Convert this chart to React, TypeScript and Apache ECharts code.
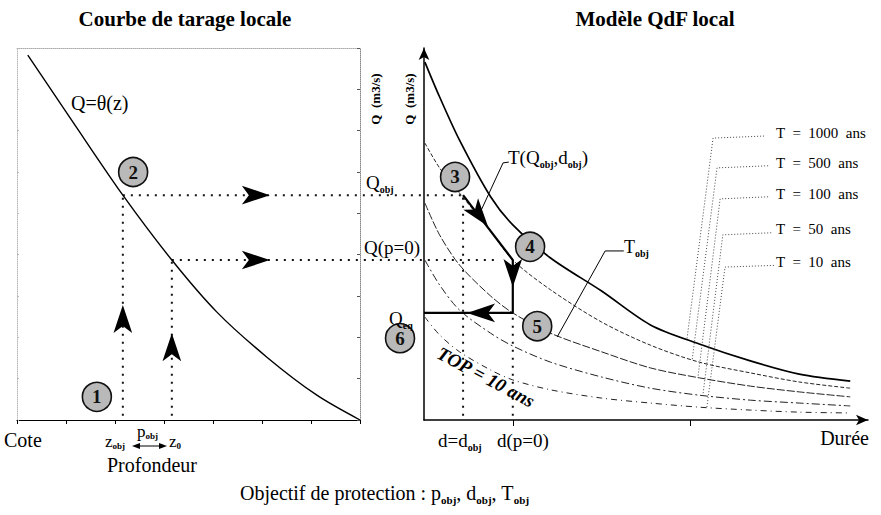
import React, { useEffect, useRef } from "react";
import * as echarts from "echarts";

const FONT = "Liberation Serif, Times New Roman, serif";

// ---------- Left panel: local rating curve Q = θ(z) ----------
const ratingZ = [0.22, 1.18, 2.16, 3.16, 4.08, 5.1, 6.12, 7.0];
const ratingQ = [8.83, 7.14, 5.44, 3.87, 2.61, 1.52, 0.6, 0.0];

// key values
const zObj = 2.16;
const z0 = 3.16;
const qObj = 5.44;
const qP0 = 3.87;
const qEq = 2.59;
const dObj = 0.88;
const dP0 = 2.0;
const durationTicks = [2, 6];

// ---------- Right panel: local QdF model ----------
const durations = [0.02, 0.35, 0.8, 1.5, 2.0, 2.85, 4.0, 5.1, 6.2, 7.35, 8.45, 9.6];
const q1000 = [8.66, 7.82, 6.77, 5.4, 4.72, 3.92, 3.12, 2.3, 1.84, 1.43, 1.11, 0.94];
const q500 = [6.7, 6.1, 5.49, 4.57, 3.87, 3.15, 2.37, 1.81, 1.4, 1.14, 0.92, 0.77];
const q100 = [5.25, 4.48, 3.75, 3.0, 2.59, 2.1, 1.65, 1.26, 1.02, 0.82, 0.68, 0.56];
const q50 = [3.87, 3.27, 2.66, 2.1, 1.79, 1.4, 1.04, 0.77, 0.6, 0.48, 0.41, 0.34];
const q10 = [2.49, 2.06, 1.65, 1.21, 0.97, 0.73, 0.53, 0.41, 0.31, 0.24, 0.19, 0.17];
const returnLabels = ["T  =  1000  ans", "T  =  500  ans", "T  =  100  ans", "T  =  50  ans", "T  =  10  ans"];

// leader lines from return-period labels to curves (duration, Q)
const leaderT1000 = [[7.66, 6.87], [6.51, 6.82], [5.92, 1.94]];
const leaderT500 = [[7.75, 6.15], [6.6, 6.1], [6.04, 1.46]];
const leaderT100 = [[7.75, 5.4], [6.67, 5.35], [6.17, 1.03]];
const leaderT50 = [[7.82, 4.53], [6.73, 4.48], [6.28, 0.59]];
const leaderT10 = [[7.88, 3.74], [6.78, 3.7], [6.37, 0.3]];
const leaderTQd = [[1.91, 6.24], [1.78, 6.22], [1.26, 5.01]];
const leaderTobj = [[4.5, 4.09], [4.08, 4.09], [3.0, 2.01]];

// numbered step markers
const stepsLeft = [
  { name: "1", value: [1.63, 0.56] },
  { name: "2", value: [2.37, 6.0] },
];
const stepsRight = [
  { name: "3", value: [0.7, 5.88] },
  { name: "4", value: [2.39, 4.19] },
  { name: "5", value: [2.55, 2.27] },
  { name: "6", value: [-0.54, 1.98] },
];

// arrow heads (value + direction)
const arrowsLeft = [
  { value: [5.16, qObj], symbolRotate: -90 },
  { value: [5.16, qP0], symbolRotate: -90 },
  { value: [zObj, 2.78], symbolRotate: 0 },
  { value: [z0, 2.1], symbolRotate: 0 },
];
const arrowsRight = [
  { value: [1.44, 4.69], symbolRotate: -142 },
  { value: [dP0, 3.22], symbolRotate: 180 },
  { value: [0.97, qEq], symbolRotate: 90 },
];

const dottedStyle = { color: "#111", width: 2, type: [2, 6] as any };
const leaderStyle = { color: "#444", width: 1, type: [1, 2] as any };

function seg(data: number[][], grid: number, lineStyle: any, extra: any = {}) {
  return {
    type: "line",
    xAxisIndex: grid,
    yAxisIndex: grid,
    data,
    symbol: "none",
    lineStyle,
    silent: true,
    z: 3,
    ...extra,
  };
}

const circleSeries = (data: any[], grid: number) => ({
  type: "scatter",
  xAxisIndex: grid,
  yAxisIndex: grid,
  data,
  clip: false,
  symbol: "circle",
  symbolSize: 29,
  z: 8,
  itemStyle: { color: "#b9b9b9", borderColor: "#111", borderWidth: 1.6, opacity: 1 },
  label: {
    show: true,
    position: "inside",
    formatter: (p: any) => p.name,
    fontFamily: FONT,
    fontWeight: "bold",
    fontSize: 19,
    color: "#111",
  },
  silent: true,
});

const arrowSeries = (data: any[], grid: number) => ({
  type: "scatter",
  xAxisIndex: grid,
  yAxisIndex: grid,
  data,
  clip: false,
  symbol: "arrow",
  symbolSize: [14, 28],
  itemStyle: { color: "#000", opacity: 1 },
  z: 9,
  silent: true,
});

const zip = (xs: number[], ys: number[]) => xs.map((x, i) => [x, ys[i]]);

const hiddenLbl = { show: false };
const noSplit = { show: false };

const option: any = {
  animation: false,
  backgroundColor: "#fff",
  grid: [
    { left: 17, top: 48, width: 343, height: 372 },
    { left: 424, top: 48, width: 444, height: 372 },
  ],
  xAxis: [
    {
      gridIndex: 0, type: "value", min: 0, max: 7, interval: 1,
      axisLine: { show: true, onZero: false, lineStyle: { color: "#000", width: 1.2 } },
      axisTick: { show: true, length: 4, lineStyle: { color: "#000" } },
      axisLabel: hiddenLbl, splitLine: noSplit,
    },
    {
      gridIndex: 1, type: "value", min: 0, max: 10,
      axisLine: { show: true, onZero: false, symbol: ["none", "arrow"], symbolSize: [8, 12], lineStyle: { color: "#000", width: 1.5 } },
      axisTick: { show: true, customValues: durationTicks, length: 6, lineStyle: { color: "#000" } },
      axisLabel: hiddenLbl, splitLine: noSplit,
    },
    {
      gridIndex: 0, type: "value", min: 0, max: 7, position: "top",
      axisLine: { show: true, onZero: false, lineStyle: { color: "#aaa", type: "dotted", width: 1 } },
      axisTick: { show: false }, axisLabel: hiddenLbl, splitLine: noSplit,
    },
  ],
  yAxis: [
    {
      gridIndex: 0, type: "value", min: 0, max: 9, interval: 1, position: "right",
      axisLine: { show: true, onZero: false, lineStyle: { color: "#888", type: "dotted", width: 1 } },
      axisTick: { show: true, inside: true, length: 3, lineStyle: { color: "#555" } },
      axisLabel: hiddenLbl, splitLine: noSplit,
    },
    {
      gridIndex: 1, type: "value", min: 0, max: 9,
      axisLine: { show: true, onZero: false, symbol: ["none", "arrow"], symbolSize: [8, 12], lineStyle: { color: "#000", width: 1.5 } },
      axisTick: { show: false }, axisLabel: hiddenLbl, splitLine: noSplit,
    },
    {
      gridIndex: 0, type: "value", min: 0, max: 9, interval: 1, position: "left",
      axisLine: { show: true, onZero: false, lineStyle: { color: "#bbb", type: "dotted", width: 1 } },
      axisTick: { show: true, inside: true, length: 2, lineStyle: { color: "#bbb" } },
      axisLabel: hiddenLbl, splitLine: noSplit,
    },
  ],
  series: [
    // left panel
    seg(zip(ratingZ, ratingQ), 0, { color: "#000", width: 1.4 }, { smooth: 0.3 }),
    seg([[zObj, 0.1], [zObj, qObj]], 0, dottedStyle),
    seg([[z0, 0.1], [z0, qP0]], 0, dottedStyle),
    circleSeries(stepsLeft, 0),
    arrowSeries(arrowsLeft, 0),
    // right panel curves
    seg(zip(durations, q1000), 1, { color: "#000", width: 1.7 }, { smooth: 0.3 }),
    seg(zip(durations, q500), 1, { color: "#222", width: 1, type: [4, 2] }, { smooth: 0.3 }),
    seg(zip(durations, q100), 1, { color: "#222", width: 1, type: [8, 2] }, { smooth: 0.3 }),
    seg(zip(durations, q50), 1, { color: "#222", width: 1, type: [8, 3, 2, 3] }, { smooth: 0.3 }),
    seg(zip(durations, q10), 1, { color: "#222", width: 1, type: [6, 4, 1, 4] }, { smooth: 0.3 }),
    // procedure path
    seg([[dObj, qObj], [dP0, qP0], [dP0, qEq], [0, qEq]], 1, { color: "#000", width: 2.2 }, { z: 6 }),
    seg([[dObj, 0.1], [dObj, qObj]], 1, dottedStyle),
    seg([[dP0, 0.1], [dP0, qEq]], 1, dottedStyle),
    // leaders
    seg(leaderT1000, 1, leaderStyle),
    seg(leaderT500, 1, leaderStyle),
    seg(leaderT100, 1, leaderStyle),
    seg(leaderT50, 1, leaderStyle),
    seg(leaderT10, 1, leaderStyle),
    seg(leaderTQd, 1, { color: "#000", width: 1 }),
    seg(leaderTobj, 1, { color: "#000", width: 1 }),
    circleSeries(stepsRight, 1),
    arrowSeries(arrowsRight, 1),
  ],
};

const sub = (size: number, gap: number) => ({
  n: { fontSize: size, fontFamily: FONT, lineHeight: size + gap },
  s: { fontSize: Math.round(size * 0.55), fontFamily: FONT, fontWeight: "bold", verticalAlign: "bottom" },
});

function txt(x: number, y: number, text: string, o: any = {}) {
  const size = o.size || 20;
  return {
    type: "text",
    x,
    y,
    rotation: o.rotation || 0,
    z: 100,
    silent: true,
    style: {
      text,
      fontFamily: FONT,
      fontSize: size,
      fontWeight: o.bold ? "bold" : "normal",
      fontStyle: o.italic ? "italic" : "normal",
      fill: "#000",
      align: o.align || "left",
      verticalAlign: "middle",
      rich: o.rich ? sub(size, o.gap ?? 5) : undefined,
    },
  };
}

const labelYs = [133, 163, 194, 229, 262];

const staticTexts: any[] = [
  txt(185, 19, "Courbe de tarage locale", { bold: true, align: "center", size: 21 }),
  txt(655, 19, "Modèle QdF local", { bold: true, align: "center", size: 21 }),
  txt(71, 103, "Q=θ(z)"),
  txt(4, 440, "Cote"),
  txt(105, 441, "{n|z}{s|obj}", { rich: true, size: 17, gap: 2 }),
  txt(137, 431, "{n|p}{s|obj}", { rich: true, size: 17, gap: 2 }),
  txt(169, 441, "{n|z}{s|0}", { rich: true, size: 17, gap: 2 }),
  txt(107, 465, "Profondeur"),
  txt(438, 440, "{n|d=d}{s|obj}", { rich: true, size: 19 }),
  txt(497, 440, "d(p=0)", { size: 19 }),
  txt(869, 438, "Durée", { align: "right" }),
  txt(240, 493, "{n|Objectif de protection : p}{s|obj}{n|, d}{s|obj}{n|, T}{s|obj}", { rich: true, size: 20 }),
  txt(366, 182, "{n|Q}{s|obj}", { rich: true, size: 19 }),
  txt(364, 247, "Q(p=0)", { size: 19 }),
  txt(389, 318, "{n|Q}{s|eq}", { rich: true, size: 19 }),
  txt(375, 99, "Q  (m3/s)", { size: 13, bold: true, rotation: Math.PI / 2, align: "center" }),
  txt(409, 99, "Q  (m3/s)", { size: 13, bold: true, rotation: Math.PI / 2, align: "center" }),
  txt(508, 157, "{n|T(Q}{s|obj}{n|,d}{s|obj}{n|)}", { rich: true, size: 19 }),
  txt(624, 247, "{n|T}{s|obj}", { rich: true, size: 18 }),
  txt(486, 377, "TOP = 10 ans", { bold: true, italic: true, size: 19, rotation: (-28 * Math.PI) / 180, align: "center" }),
  ...returnLabels.map((t, i) => txt(776, labelYs[i], t, { size: 15 })),
  // double arrow p_obj
  { type: "line", z: 100, silent: true, shape: { x1: 137, y1: 446, x2: 162, y2: 446 }, style: { stroke: "#000", lineWidth: 1 } },
  { type: "polygon", z: 100, silent: true, shape: { points: [[132, 446], [140, 443], [140, 449]] }, style: { fill: "#000" } },
  { type: "polygon", z: 100, silent: true, shape: { points: [[167, 446], [159, 443], [159, 449]] }, style: { fill: "#000" } },
];

export default function App() {
  const ref = useRef<HTMLDivElement>(null);
  useEffect(() => {
    const el = ref.current as HTMLDivElement;
    const chart = echarts.init(el, null, { renderer: "svg" });
    chart.setOption(option);
    const p0 = (p: number[]) => chart.convertToPixel({ xAxisIndex: 0, yAxisIndex: 0 }, p) as number[];
    const p1 = (p: number[]) => chart.convertToPixel({ xAxisIndex: 1, yAxisIndex: 1 }, p) as number[];
    const cross = (a: number[], b: number[]) => ({
      type: "line",
      z: 2,
      silent: true,
      shape: { x1: a[0], y1: a[1], x2: b[0], y2: b[1] },
      style: { stroke: "#111", lineWidth: 2, lineDash: [2, 6] },
    });
    const crossLines = [
      cross(p0([zObj, qObj]), p1([dObj, qObj])),
      cross(p0([z0, qP0]), p1([dP0 - 0.3, qP0])),
    ];
    chart.setOption({ graphic: [...staticTexts, ...crossLines] });
    return () => chart.dispose();
  }, []);
  return (
    <div
      ref={ref}
      style={{ position: "absolute", left: 0, top: 0, width: 881, height: 515, background: "#fff" }}
    />
  );
}
